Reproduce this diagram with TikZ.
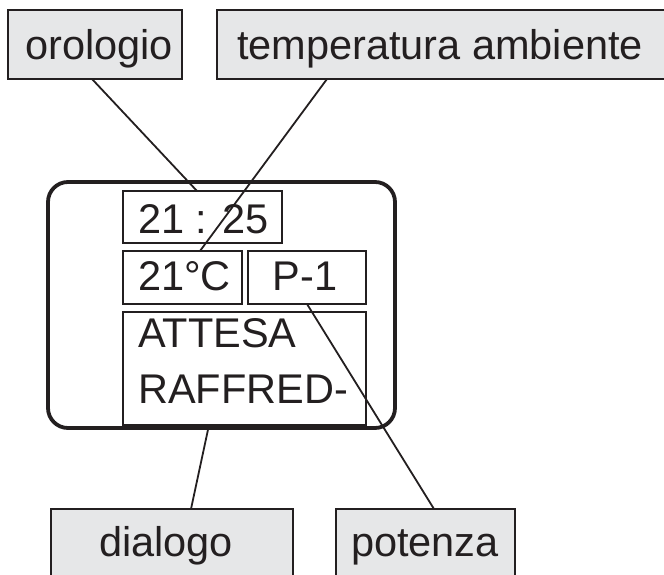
\documentclass[tikz,border=0pt]{standalone}
\usepackage{fontspec}
\setmainfont{Liberation Sans}
\definecolor{tagfill}{HTML}{E6E7E8}
\definecolor{ink}{HTML}{231F20}

\tikzset{
  tagbox/.style={draw=ink, fill=tagfill, line width=1.3pt, inner sep=0pt, outer sep=0pt, anchor=north west},
  fieldbox/.style={draw=ink, line width=1.3pt, inner sep=0pt, outer sep=0pt, anchor=north west},
  word/.style={inner sep=0pt, text=ink, font=\fontsize{41.5}{50}\selectfont},
  lead/.style={ink, line width=1.8pt}
}

\begin{document}
\begin{tikzpicture}[x=1pt, y=-1pt]
  \useasboundingbox (0,0) rectangle (664,575);
  \clip (0,0) rectangle (664,575);

  % labels at the top
  \node[tagbox, minimum width=174pt, minimum height=69pt] (clocktag) at (8,10) {};
  \node[tagbox, minimum width=453pt, minimum height=69pt] (temptag) at (217,10) {};
  \node[word, anchor=base] (clockword) at (99,60) {orologio};
  \node[word, anchor=base] (tempword) at (440,60) {temperatura ambiente};

  % the display
  \node[draw=ink, line width=3.8pt, rounded corners=20pt, minimum width=347pt, minimum height=246pt,
        inner sep=0pt, outer sep=0pt, anchor=north west] (display) at (48,182) {};
  \node[fieldbox, minimum width=159pt, minimum height=52pt] (time) at (123,191) {};
  \node[fieldbox, minimum width=119pt, minimum height=53pt] (temp) at (123,251) {};
  \node[fieldbox, minimum width=118pt, minimum height=53pt] (power) at (248,251) {};
  \node[fieldbox, minimum width=243pt, minimum height=113pt] (msg) at (123,312) {};
  \node[word, anchor=base west] (timeword) at (138,233) {21 : 25};
  \node[word, anchor=base west] (tempval) at (138,290) {21°C};
  \node[word, anchor=base] (powerval) at (305,290) {P-1};
  \node[word, anchor=base west] (msgone) at (138,347) {ATTESA};
  \node[word, anchor=base west] (msgtwo) at (138,403) {RAFFRED-};

  % labels at the bottom
  \node[tagbox, minimum width=242pt, minimum height=69pt] (dialogtag) at (51,509) {};
  \node[tagbox, minimum width=179pt, minimum height=69pt] (powertag) at (336,509) {};
  \node[word, anchor=base] (dialogword) at (166,556) {dialogo};
  \node[word, anchor=base] (powerword) at (425,556) {potenza};

  % leader lines
  \draw[lead] ([xshift=-3pt]clocktag.south) -- ([xshift=-5.5pt]time.north);
  \draw[lead] ([xshift=-116.5pt]temptag.south) -- ([xshift=17.5pt]temp.north);
  \draw[lead] ([xshift=-35.5pt]msg.south) -- ([xshift=19pt]dialogtag.north);
  \draw[lead] (power.south) -- ([xshift=8.5pt]powertag.north);
\end{tikzpicture}
\end{document}
